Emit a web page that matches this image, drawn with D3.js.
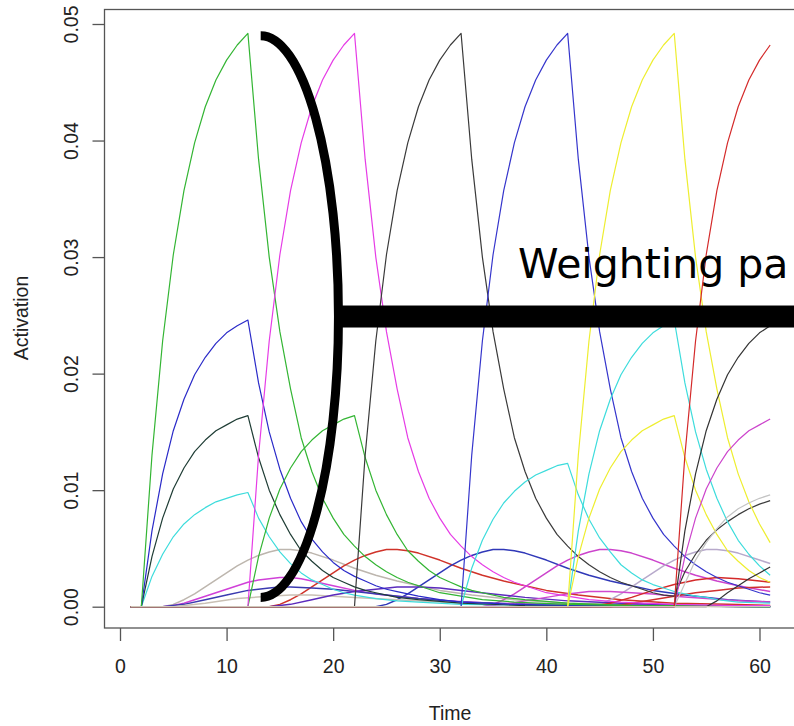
<!DOCTYPE html>
<html>
<head>
<meta charset="utf-8">
<script src="https://cdn.jsdelivr.net/npm/d3@7"></script>
<style>
  body { margin: 0; background: #fff; }
  svg { display: block; }
</style>
</head>
<body>
<div id="chart"></div>
<script>
// tick labels
var xTicks = [0, 10, 20, 30, 40, 50, 60];
var yTicks = [0, 0.01, 0.02, 0.03, 0.04, 0.05];

// series: [time, activation]
var greenMain = [[1,0],[2,0],[3,.0130],[4,.0228],[5,.0302],[6,.0357],[7,.0398],[8,.0429],[9,.0452],[10,.0469],[11,.0482],[12,.0492],[13,.0384],[14,.0300],[15,.0236],[16,.0187],[17,.0145],[18,.0116],[19,.0093],[20,.0076],[21,.0062],[22,.0052],[23,.0043],[24,.0036],[25,.0030],[26,.0025],[27,.0021],[28,.0018],[29,.0015],[30,.0012],[32,.0009],[34,.0006],[37,.0004],[42,.0002],[48,.0001],[61,0]];
var blueEarly = [[1,0],[2,0],[3,.0065],[4,.0114],[5,.0151],[6,.0178],[7,.0199],[8,.0214],[9,.0226],[10,.0235],[11,.0241],[12,.0246],[13,.0192],[14,.0150],[15,.0118],[16,.0093],[17,.0073],[18,.0058],[19,.0047],[20,.0038],[21,.0031],[22,.0026],[23,.0022],[24,.0018],[25,.0015],[26,.0013],[27,.0011],[28,.0009],[30,.0006],[32,.0004],[37,.0002],[44,.0001],[61,0]];
var slateEarly = [[1,0],[2,0],[3,.0043],[4,.0076],[5,.0101],[6,.0119],[7,.0133],[8,.0143],[9,.0151],[10,.0156],[11,.0161],[12,.0164],[13,.0128],[14,.0100],[15,.0079],[16,.0062],[17,.0048],[18,.0039],[19,.0031],[20,.0025],[21,.0021],[22,.0017],[23,.0014],[24,.0012],[26,.0008],[28,.0006],[32,.0003],[38,.0001],[61,0]];
var cyanEarly = [[1,0],[2,0],[3,.0026],[4,.0045],[5,.0060],[6,.0071],[7,.0079],[8,.0085],[9,.0090],[10,.0093],[11,.0096],[12,.0098],[13,.0076],[14,.0060],[15,.0047],[16,.0037],[17,.0029],[18,.0023],[19,.0019],[20,.0015],[21,.0012],[22,.0010],[24,.0007],[26,.0005],[28,.0004],[32,.0002],[42,.0001],[61,0]];
var magentaMain = [[1,0],[12,0],[13,.0130],[14,.0228],[15,.0302],[16,.0357],[17,.0398],[18,.0429],[19,.0452],[20,.0469],[21,.0482],[22,.0492],[23,.0384],[24,.0300],[25,.0236],[26,.0187],[27,.0145],[28,.0116],[29,.0093],[30,.0076],[31,.0062],[32,.0052],[33,.0043],[34,.0036],[35,.0030],[36,.0025],[37,.0021],[38,.0018],[39,.0015],[40,.0012],[42,.0009],[44,.0006],[47,.0004],[52,.0002],[58,.0001],[61,.0001]];
var greenLate = [[1,0],[12,0],[13,.0043],[14,.0076],[15,.0101],[16,.0119],[17,.0133],[18,.0143],[19,.0151],[20,.0156],[21,.0161],[22,.0164],[23,.0128],[24,.0100],[25,.0079],[26,.0062],[27,.0048],[28,.0039],[29,.0031],[30,.0025],[31,.0021],[32,.0017],[33,.0014],[34,.0012],[36,.0008],[38,.0006],[42,.0003],[48,.0001],[61,0]];
var blackMain = [[1,0],[22,0],[23,.0130],[24,.0228],[25,.0302],[26,.0357],[27,.0398],[28,.0429],[29,.0452],[30,.0469],[31,.0482],[32,.0492],[33,.0384],[34,.0300],[35,.0236],[36,.0187],[37,.0145],[38,.0116],[39,.0093],[40,.0076],[41,.0062],[42,.0052],[43,.0043],[44,.0036],[45,.0030],[46,.0025],[47,.0021],[48,.0018],[49,.0015],[50,.0012],[51,.0010],[52,.0009],[53,.0030],[54,.0045],[55,.0057],[56,.0066],[57,.0073],[58,.0079],[59,.0084],[60,.0088],[61,.0091]];
var cyanMid = [[1,0],[32,0],[33,.0033],[34,.0057],[35,.0075],[36,.0089],[37,.0099],[38,.0107],[39,.0113],[40,.0117],[41,.0121],[42,.0123],[43,.0096],[44,.0075],[45,.0059],[46,.0047],[47,.0036],[48,.0029],[49,.0023],[50,.0019],[51,.0016],[52,.0013],[53,.0011],[54,.0009],[55,.0008],[56,.0006],[58,.0004],[61,.0003]];
var blueMain = [[1,0],[32,0],[33,.0130],[34,.0228],[35,.0302],[36,.0357],[37,.0398],[38,.0429],[39,.0452],[40,.0469],[41,.0482],[42,.0492],[43,.0384],[44,.0300],[45,.0236],[46,.0187],[47,.0145],[48,.0116],[49,.0093],[50,.0076],[51,.0062],[52,.0052],[53,.0043],[54,.0036],[55,.0030],[56,.0025],[57,.0021],[58,.0018],[59,.0015],[60,.0012],[61,.0010]];
var yellowMain = [[1,0],[42,0],[43,.0130],[44,.0228],[45,.0302],[46,.0357],[47,.0398],[48,.0429],[49,.0452],[50,.0469],[51,.0482],[52,.0492],[53,.0384],[54,.0300],[55,.0236],[56,.0187],[57,.0145],[58,.0114],[59,.0090],[60,.0071],[61,.0055]];
var cyanLate = [[1,0],[42,0],[43,.0065],[44,.0114],[45,.0151],[46,.0178],[47,.0199],[48,.0214],[49,.0226],[50,.0235],[51,.0241],[52,.0246],[53,.0192],[54,.0150],[55,.0118],[56,.0093],[57,.0073],[58,.0057],[59,.0045],[60,.0035],[61,.0027]];
var yellowLate = [[1,0],[42,0],[43,.0043],[44,.0076],[45,.0101],[46,.0119],[47,.0133],[48,.0143],[49,.0151],[50,.0156],[51,.0161],[52,.0164],[53,.0128],[54,.0100],[55,.0079],[56,.0062],[57,.0048],[58,.0039],[59,.0031],[60,.0025],[61,.0021]];
var redMain = [[1,0],[52,0],[53,.0130],[54,.0228],[55,.0302],[56,.0357],[57,.0398],[58,.0429],[59,.0452],[60,.0469],[61,.0482]];
var blackLate = [[1,0],[52,0],[53,.0065],[54,.0114],[55,.0151],[56,.0178],[57,.0199],[58,.0214],[59,.0226],[60,.0235],[61,.0241]];
var magentaLate = [[1,0],[52,0],[53,.0043],[54,.0076],[55,.0101],[56,.0119],[57,.0133],[58,.0143],[59,.0151],[60,.0156],[61,.0161]];
var grayLate = [[1,0],[52,0],[53,.0020],[54,.0040],[55,.0055],[56,.0067],[57,.0077],[58,.0084],[59,.0089],[60,.0093],[61,.0096]];
var blackTail = [[1,0],[55,0],[56,.0005],[57,.0012],[58,.0018],[59,.0024],[60,.0029],[61,.0034]];

// slow, delayed bumps
var grayBump = [[1,0],[4,0],[5,.0002],[6,.0006],[7,.0011],[8,.0017],[9,.0023],[10,.0029],[11,.0035],[12,.0040],[13,.0044],[14,.0047],[15,.0049],[16,.0049],[17,.0048],[18,.0046],[20,.0040],[22,.0033],[24,.0027],[26,.0022],[28,.0018],[30,.0014],[33,.0010],[37,.0006],[42,.0003],[47,.0002],[54,.0001],[61,.0001]];
var redBump = [[1,0],[14,0],[15,.0002],[16,.0006],[17,.0011],[18,.0017],[19,.0023],[20,.0029],[21,.0035],[22,.0040],[23,.0044],[24,.0047],[25,.0049],[26,.0049],[27,.0048],[28,.0046],[30,.0040],[32,.0033],[34,.0027],[36,.0022],[38,.0018],[40,.0014],[43,.0010],[47,.0006],[52,.0003],[57,.0002],[61,.0001]];
var blueBump = [[1,0],[24,0],[25,.0002],[26,.0006],[27,.0011],[28,.0017],[29,.0023],[30,.0029],[31,.0035],[32,.0040],[33,.0044],[34,.0047],[35,.0049],[36,.0049],[37,.0048],[38,.0046],[40,.0040],[42,.0033],[44,.0027],[46,.0022],[48,.0018],[50,.0014],[53,.0010],[57,.0006],[61,.0004]];
var magentaBump = [[1,0],[34,0],[35,.0002],[36,.0006],[37,.0011],[38,.0017],[39,.0023],[40,.0029],[41,.0035],[42,.0040],[43,.0044],[44,.0047],[45,.0049],[46,.0049],[47,.0048],[48,.0046],[50,.0040],[52,.0033],[54,.0027],[56,.0022],[58,.0018],[61,.0013]];
var lavenderBump = [[1,0],[44,0],[45,.0002],[46,.0006],[47,.0011],[48,.0017],[49,.0023],[50,.0029],[51,.0035],[52,.0040],[53,.0044],[54,.0047],[55,.0049],[56,.0049],[57,.0048],[58,.0046],[60,.0040],[61,.0037]];
var magentaSmall = [[1,0],[4,0],[5,.0001],[6,.0003],[7,.0006],[8,.0009],[9,.0012],[10,.0015],[11,.0018],[12,.0021],[13,.0023],[14,.0024],[15,.0025],[16,.0025],[17,.0024],[18,.0022],[20,.0018],[22,.0014],[24,.0011],[26,.0009],[28,.0007],[31,.0005],[35,.0003],[40,.0002],[50,.0001],[61,0]];
var blueSmall = [[1,0],[4,0],[6,.0002],[8,.0006],[10,.0010],[12,.0014],[14,.0016],[15,.0017],[16,.0017],[18,.0016],[20,.0015],[22,.0013],[25,.0010],[28,.0007],[32,.0004],[38,.0002],[50,.0001],[61,0]];
var tanSmall = [[1,0],[5,0],[8,.0003],[11,.0007],[14,.0009],[16,.0010],[18,.0010],[22,.0008],[26,.0006],[30,.0004],[36,.0002],[45,.0001],[61,0]];
var purpleSmall = [[1,0],[14,0],[16,.0002],[18,.0006],[20,.0010],[22,.0013],[24,.0015],[26,.0017],[28,.0017],[30,.0016],[32,.0014],[35,.0011],[38,.0008],[42,.0005],[47,.0003],[54,.0001],[61,0]];
var magentaSmallLate = [[1,0],[34,0],[36,.0002],[38,.0005],[40,.0008],[42,.0011],[44,.0013],[46,.0013],[48,.0012],[50,.0011],[52,.0009],[55,.0007],[58,.0005],[61,.0004]];
var redSmall = [[1,0],[44,0],[46,.0003],[48,.0008],[50,.0014],[52,.0019],[54,.0023],[55,.0024],[56,.0025],[58,.0024],[60,.0022],[61,.0021]];
var redSmall2 = [[1,0],[46,0],[48,.0003],[50,.0006],[52,.0009],[54,.0012],[56,.0014],[58,.0016],[61,.0017]];
var baseline = [[1,0],[61,0]];

var allSeries = [grayBump, redBump, blueBump, magentaBump, lavenderBump,
  magentaSmall, blueSmall, tanSmall, purpleSmall, magentaSmallLate, redSmall, redSmall2,
  cyanEarly, slateEarly, blueEarly, greenMain, greenLate, magentaMain, blackMain,
  cyanMid, blueMain, cyanLate, yellowLate, yellowMain, grayLate, blackTail,
  magentaLate, blackLate, redMain, baseline];

var lineColors = ["#bdb6ae", "#d0332a", "#3038b8", "#cc44cc", "#b7a9cb",
  "#d040d8", "#3a3ab0", "#c9c0b4", "#5b2bbd", "#d048d0", "#d42a2a", "#d03030",
  "#3ddcdc", "#1f3d35", "#2a2ac8", "#33b533", "#33b533", "#e63ce6", "#3a3a3a",
  "#3ddcdc", "#3535cc", "#3ddcdc", "#eeee30", "#eeee30", "#c4c4c4", "#333333",
  "#cc44cc", "#333333", "#d42a2a", "#cfc6b8"];

var width = 794, height = 726;

var svg = d3.select("#chart")
  .append("svg")
    .attr("width", width)
    .attr("height", height);

svg.append("rect")
  .attr("width", width)
  .attr("height", height)
  .attr("fill", "#fff");

var x = d3.scaleLinear().domain([0, 60]).range([120, 759.5]);
var y = d3.scaleLinear().domain([0, 0.05]).range([606.7, 24]);

// lines
var line = d3.line()
  .x(function(d) { return x(d[0]); })
  .y(function(d) { return y(d[1]); });

svg.selectAll("path.series")
  .data(allSeries)
  .enter()
  .append("path")
    .attr("class", "series")
    .attr("d", line)
    .attr("fill", "none")
    .attr("stroke", function(d, i) { return lineColors[i]; })
    .attr("stroke-width", function(d, i) { return i < 12 ? 1.5 : 1.2; })
    .attr("stroke-linejoin", "round");

// plot box
svg.append("rect")
  .attr("x", 104.5)
  .attr("y", 9.5)
  .attr("width", 700)
  .attr("height", 618.5)
  .attr("fill", "none")
  .attr("stroke", "#555")
  .attr("stroke-width", 1.3);

// Y axis
var yAxis = svg.append("g")
  .attr("transform", "translate(104.5,0)")
  .call(d3.axisLeft(y).tickValues(yTicks).tickSize(12).tickFormat(d3.format(".2f")));
yAxis.select(".domain").remove();
yAxis.selectAll("line").attr("stroke", "#555").attr("stroke-width", 1.3);
yAxis.selectAll("text")
  .attr("x", null)
  .attr("dy", null)
  .attr("transform", "translate(-27,0) rotate(-90)")
  .attr("text-anchor", "middle")
  .attr("fill", "#222")
  .style("font-family", "Liberation Sans, Arial, sans-serif")
  .style("font-size", "19.5px");

// X axis
var xAxis = svg.append("g")
  .attr("transform", "translate(0,628)")
  .call(d3.axisBottom(x).tickValues(xTicks).tickSize(13));
xAxis.select(".domain").remove();
xAxis.selectAll("line").attr("stroke", "#555").attr("stroke-width", 1.3);
xAxis.selectAll("text")
  .attr("y", 45)
  .attr("dy", null)
  .attr("fill", "#222")
  .style("font-family", "Liberation Sans, Arial, sans-serif")
  .style("font-size", "19.5px");

// axis names
svg.append("text")
  .attr("x", 450)
  .attr("y", 720)
  .attr("text-anchor", "middle")
  .style("font-family", "Liberation Sans, Arial, sans-serif")
  .style("font-size", "19.5px")
  .attr("fill", "#222")
  .text("Time");

svg.append("text")
  .attr("transform", "translate(28,318) rotate(-90)")
  .attr("text-anchor", "middle")
  .style("font-family", "Liberation Sans, Arial, sans-serif")
  .style("font-size", "19.5px")
  .attr("fill", "#222")
  .text("Activation");

// annotation: bracket and pointer bar
var bx = x(13.2), topY = y(0.049), botY = y(0.0008);
var rx = x(20.5) - bx, ry = (botY - topY) / 2;
svg.append("path")
  .attr("d", "M" + bx + "," + topY + " A" + rx + "," + ry + " 0 0 1 " + bx + "," + botY)
  .attr("fill", "none")
  .attr("stroke", "#000")
  .attr("stroke-width", 9);

svg.append("rect")
  .attr("x", x(20.5) - 4)
  .attr("y", y(0.0249) - 11)
  .attr("width", width)
  .attr("height", 22)
  .attr("fill", "#000");

svg.append("text")
  .attr("x", 518)
  .attr("y", 278)
  .style("font-family", "DejaVu Sans, sans-serif")
  .style("font-size", "41px")
  .attr("fill", "#000")
  .text("Weighting pa");
</script>
</body>
</html>
